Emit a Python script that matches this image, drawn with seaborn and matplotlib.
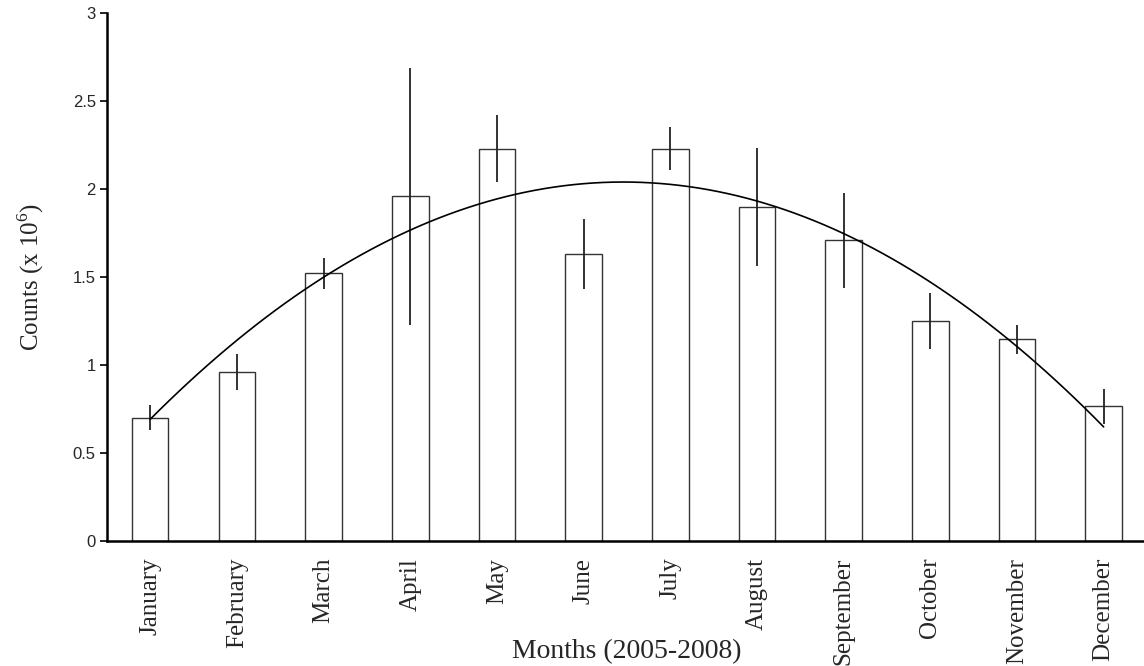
import numpy as np
import pandas as pd
import matplotlib
matplotlib.use("Agg")
import matplotlib.pyplot as plt
import seaborn as sns

# monthly counts (x 10^6), 2005-2008, with error bars
months = ["January", "February", "March", "April", "May", "June",
          "July", "August", "September", "October", "November", "December"]
counts = [0.70, 0.96, 1.52, 1.96, 2.23, 1.63, 2.23, 1.90, 1.71, 1.25, 1.145, 0.766]
errors = [0.07, 0.10, 0.09, 0.73, 0.19, 0.20, 0.12, 0.335, 0.27, 0.16, 0.085, 0.10]
y_ticks = [0, 0.5, 1, 1.5, 2, 2.5, 3]
y_tick_labels = ["0", "0.5", "1", "1.5", "2", "2.5", "3"]

df = pd.DataFrame({"Month": months, "Counts": counts, "Error": errors})
df["idx"] = np.arange(len(df))

sns.set_style("white")
plt.rcParams["font.family"] = ["Liberation Serif", "DejaVu Serif"]
plt.rcParams["mathtext.fontset"] = "custom"
plt.rcParams["mathtext.rm"] = "Liberation Serif"

fig = plt.figure(figsize=(11.44, 6.66), dpi=100)
ax = fig.add_axes([0.0935, 0.1877, 0.9091, 0.7928])

sns.barplot(data=df, x="Month", y="Counts", color="white", edgecolor="#333333",
            linewidth=1.0, width=0.42, errorbar=None, ax=ax)
ax.errorbar(df["idx"], df["Counts"], yerr=df["Error"], fmt="none",
            ecolor="#222222", elinewidth=1.3, capsize=0, zorder=3)

# quadratic trend line over the monthly means
sns.regplot(data=df, x="idx", y="Counts", order=2, scatter=False, ci=None,
            truncate=True, line_kws={"color": "black", "lw": 1.2, "zorder": 4}, ax=ax)

ax.set_xlim(-0.5, len(months) - 0.5)
ax.set_ylim(0, 3)
ax.set_yticks(y_ticks)
ax.set_yticklabels(y_tick_labels, family="Liberation Sans", fontsize=12)

ax.set_xticks(df["idx"])
ax.set_xticklabels(months, rotation=90, fontsize=18, va="top")
ax.set_xticks(np.arange(len(months) + 1) - 0.5, minor=True)
ax.tick_params(axis="x", which="major", length=0, pad=12)
ax.tick_params(axis="x", which="minor", length=5, width=1.2, color="black", direction="out")
ax.tick_params(axis="y", length=5, width=1.2, color="black", direction="out", pad=3, left=True)

ax.set_xlabel("Months (2005-2008)", fontsize=20, va="center")
ax.xaxis.set_label_coords(0.5, -0.21)
ax.set_ylabel(r"Counts (x 10$^{\mathregular{6}}$)", fontsize=18, labelpad=19)

sns.despine(ax=ax)
for side in ["left", "bottom"]:
    ax.spines[side].set_color("black")
    ax.spines[side].set_linewidth(1.8)

fig.savefig("out.png", dpi=100)
